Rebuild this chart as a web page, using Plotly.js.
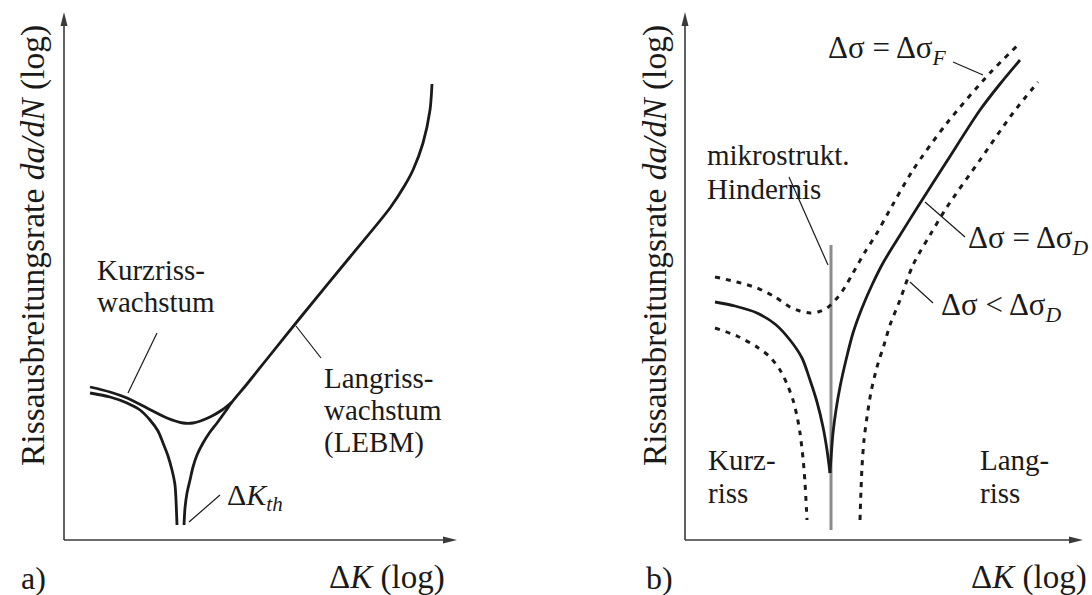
<!DOCTYPE html>
<html>
<head>
<meta charset="utf-8">
<script src="https://cdn.plot.ly/plotly-3.0.1.min.js"></script>
<style>html,body{margin:0;padding:0;background:#fff;}</style>
</head>
<body>
<div id="chart" style="width:1092px;height:595px;"></div>
<script>
// Schematic crack-growth diagrams: x = log ΔK, y = log da/dN (arbitrary units)

// ---- a) threshold behaviour of short and long cracks ----
const aShortLowerX = [26, 46, 63, 76, 86, 94, 99, 104, 108, 111, 112, 113];
const aShortLowerY = [147, 143, 137, 130, 120, 109, 97, 84, 70, 55, 40, 15];
const aShortUpperX = [26, 46, 63, 83, 103, 119, 129, 146, 158, 168];
const aShortUpperY = [153, 148, 142, 132, 122, 117, 117, 123, 130, 138];
const aLongX = [120, 121, 123, 126, 129, 133, 139, 146, 153, 161, 168, 183, 203, 236, 286, 326, 341, 349, 359, 366, 368];
const aLongY = [15, 32, 47, 60, 73, 85, 97, 108, 117, 128, 138, 156, 181, 222, 283, 332, 355, 370, 397, 430, 456];

// ---- b) microstructural barrier, three stress amplitudes ----
const bMidLeftX = [30, 50, 72, 90, 105, 117, 125, 132, 138, 142, 145];
const bMidLeftY = [238, 234, 227, 216, 200, 182, 160, 138, 113, 90, 67];
const bMidRightX = [145, 148, 151, 155, 161, 168, 177, 187, 198, 212, 232, 262, 295, 315, 335];
const bMidRightY = [67, 107, 130, 153, 180, 207, 232, 255, 277, 300, 332, 379, 430, 456, 480];
const bHighX = [30, 52, 72, 90, 105, 115, 125, 133, 142, 153, 160, 168, 180, 192, 202, 228, 262, 305, 333];
const bHighY = [263, 258, 252, 243, 233, 229, 227, 228, 232, 243, 253, 267, 288, 307, 325, 370, 417, 467, 495];
const bLowLeftX = [30, 52, 72, 85, 95, 102, 108, 112, 115, 118, 120, 122];
const bLowLeftY = [212, 204, 193, 183, 170, 156, 140, 124, 107, 82, 57, 20];
const bLowRightX = [175, 176, 177, 179, 182, 186, 192, 199, 205, 215, 228, 245, 262, 295, 328, 353];
const bLowRightY = [20, 50, 73, 100, 123, 148, 173, 195, 215, 240, 275, 305, 333, 380, 427, 458];
const bBarrierX = [146, 146];
const bBarrierY = [10, 295];

// leader lines: [x0, y0, x1, y1]
const aLeaders = [[93, 207, 64, 147], [232, 214, 257, 182], [125, 18, 156, 45]];
const bLeaders = [[104, 363, 143, 275], [268, 478, 298, 465], [240, 338, 280, 303], [225, 258, 248, 237]];

// axis extents (tip of arrow) per panel
const aAxisTip = {x: 393, y: 528};
const bAxisTip = {x: 398, y: 528};

const FONT = 'Liberation Serif, Times New Roman, serif';
const INK = '#1a1a1a';
const AXIS = '#3a3a3a';
const FS = 29;

function curve(x, y, xa, ya, opts) {
  return Object.assign({
    x: x, y: y, xaxis: xa, yaxis: ya, type: 'scatter', mode: 'lines',
    line: {color: INK, width: 2.8, shape: 'spline', smoothing: 0.8},
    hoverinfo: 'skip', showlegend: false, cliponaxis: false
  }, opts || {});
}
const dotted = {color: INK, width: 3, dash: '5px,6px', shape: 'spline', smoothing: 0.8};

const traces = [
  curve(aShortLowerX, aShortLowerY, 'x', 'y'),
  curve(aShortUpperX, aShortUpperY, 'x', 'y'),
  curve(aLongX, aLongY, 'x', 'y'),
  curve(bBarrierX, bBarrierY, 'x2', 'y2', {line: {color: '#8c8c8c', width: 3}}),
  curve(bMidLeftX, bMidLeftY, 'x2', 'y2'),
  curve(bMidRightX, bMidRightY, 'x2', 'y2'),
  curve(bHighX, bHighY, 'x2', 'y2', {line: dotted}),
  curve(bLowLeftX, bLowLeftY, 'x2', 'y2', {line: dotted}),
  curve(bLowRightX, bLowRightY, 'x2', 'y2', {line: dotted})
];

const shapes = [];
function leader(l, xr, yr) {
  shapes.push({type: 'line', xref: xr, yref: yr, x0: l[0], y0: l[1], x1: l[2], y1: l[3],
    line: {color: INK, width: 1.2}});
}
aLeaders.forEach(l => leader(l, 'x', 'y'));
bLeaders.forEach(l => leader(l, 'x2', 'y2'));

function axesArrows(tip, xr, yr) {
  shapes.push({type: 'line', xref: xr, yref: yr, x0: 0, y0: 0, x1: 0, y1: tip.y - 10, line: {color: AXIS, width: 1.6}});
  shapes.push({type: 'line', xref: xr, yref: yr, x0: 0, y0: 0, x1: tip.x - 10, y1: 0, line: {color: AXIS, width: 1.6}});
  shapes.push({type: 'path', xref: xr, yref: yr,
    path: `M 0 ${tip.y} L -3.5 ${tip.y - 14} L 3.5 ${tip.y - 14} Z`, fillcolor: AXIS, line: {width: 0}});
  shapes.push({type: 'path', xref: xr, yref: yr,
    path: `M ${tip.x} 0 L ${tip.x - 14} 3.5 L ${tip.x - 14} -3.5 Z`, fillcolor: AXIS, line: {width: 0}});
}
axesArrows(aAxisTip, 'x', 'y');
axesArrows(bAxisTip, 'x2', 'y2');

const annotations = [];
function label(text, x, y, xr, yr, opts, size) {
  annotations.push(Object.assign({
    text: text, x: x, y: y, xref: xr, yref: yr, showarrow: false,
    xanchor: 'left', yanchor: 'middle', font: {family: FONT, size: size || FS, color: INK}
  }, opts || {}));
}
// panel a labels
label('Kurzriss-', 31, 270, 'x', 'y');
label('wachstum', 31, 238, 'x', 'y');
label('Langriss-', 258, 162, 'x', 'y');
label('wachstum', 258, 130, 'x', 'y');
label('(LEBM)', 258, 98, 'x', 'y');
label('Δ<i>K</i><sub><i>th</i></sub>', 161, 43, 'x', 'y', {}, 30);
// panel b labels
label('mikrostrukt.', 20, 385, 'x2', 'y2');
label('Hindernis', 20, 351, 'x2', 'y2');
label('Δσ = Δσ<sub><i>F</i></sub>', 141, 490, 'x2', 'y2', {}, 31);
label('Δσ = Δσ<sub><i>D</i></sub>', 281, 300, 'x2', 'y2', {}, 31);
label('Δσ &lt; Δσ<sub><i>D</i></sub>', 254, 233, 'x2', 'y2', {}, 31);
label('Kurz-', 21, 80, 'x2', 'y2');
label('riss', 21, 47, 'x2', 'y2');
label('Lang-', 293, 80, 'x2', 'y2');
label('riss', 293, 47, 'x2', 'y2');

// panel tags, axis titles (paper coordinates)
const px = v => v / 1092, py = v => 1 - v / 595;
label('a)', px(19), py(578), 'paper', 'paper', {}, 32);
label('b)', px(644), py(578), 'paper', 'paper', {}, 32);
label('Δ<i>K</i> (log)', px(447), py(577), 'paper', 'paper', {xanchor: 'right'}, 33);
label('Δ<i>K</i> (log)', px(1089), py(577), 'paper', 'paper', {xanchor: 'right'}, 33);
const yTitle = 'Rissausbreitungsrate <i>da/dN</i> (log)';
label(yTitle, px(33), py(246), 'paper', 'paper', {textangle: -90, xanchor: 'center'}, 33.5);
label(yTitle, px(655), py(246), 'paper', 'paper', {textangle: -90, xanchor: 'center'}, 33.5);

const hidden = {showgrid: false, zeroline: false, showline: false, showticklabels: false, ticks: '', fixedrange: true};
const layout = {
  width: 1092, height: 595, autosize: false,
  margin: {l: 0, r: 0, t: 0, b: 0, pad: 0},
  paper_bgcolor: '#ffffff', plot_bgcolor: 'rgba(0,0,0,0)',
  showlegend: false,
  font: {family: FONT},
  xaxis: Object.assign({domain: [4 / 1092, 484 / 1092], range: [-60, 420]}, hidden),
  yaxis: Object.assign({domain: [0, 1], range: [-55, 540]}, hidden),
  xaxis2: Object.assign({domain: [650 / 1092, 1090 / 1092], range: [-35, 405], anchor: 'y2'}, hidden),
  yaxis2: Object.assign({domain: [0, 1], range: [-55, 540], anchor: 'x2'}, hidden),
  shapes: shapes,
  annotations: annotations
};

Plotly.newPlot('chart', traces, layout, {staticPlot: true, displayModeBar: false});
</script>
</body>
</html>
